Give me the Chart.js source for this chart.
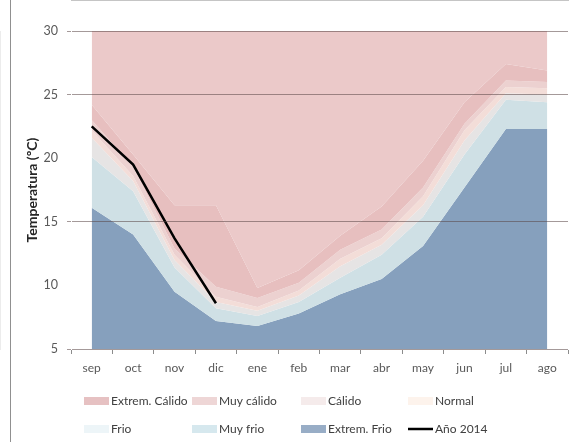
<!DOCTYPE html>
<html>
<head>
<meta charset="utf-8">
<script src="https://cdn.jsdelivr.net/npm/chart.js@4/dist/chart.umd.min.js"></script>
<style>
  body { margin: 0; background: #fff; }
  #wrap { position: relative; width: 572px; height: 442px; }
  #chart { display: block; }
  #frame { position: absolute; left: 10px; top: 0; width: 1px; height: 442px; background: #909090; z-index: 2; }
</style>
</head>
<body>
<div id="wrap">
  <canvas id="chart" width="572" height="442"></canvas>
  <div id="frame"></div>
</div>
<script>
'use strict';

// **** Data ****
let months = ['sep', 'oct', 'nov', 'dic', 'ene', 'feb', 'mar', 'abr', 'may', 'jun', 'jul', 'ago'];

// upper limit of each band (ºC)
let extremFrio = [16.1, 14.0, 9.5, 7.2, 6.8, 7.8, 9.3, 10.5, 13.1, 17.7, 22.3, 22.3];
let muyFrio = [20.1, 17.4, 11.4, 8.2, 7.6, 8.7, 10.6, 12.4, 15.4, 20.3, 24.6, 24.4];
let frio = [21.6, 18.2, 12.0, 8.7, 8.0, 9.2, 11.5, 13.2, 16.3, 21.4, 25.1, 25.0];
let normal = [22.2, 18.6, 12.4, 9.1, 8.3, 9.6, 12.1, 13.7, 17.0, 22.2, 25.6, 25.5];
let calido = [23.0, 19.3, 12.9, 9.9, 9.0, 10.2, 12.8, 14.4, 17.7, 22.7, 26.1, 26.0];
let muyCalido = [24.2, 20.3, 16.3, 16.3, 9.8, 11.2, 13.9, 16.2, 19.8, 24.4, 27.4, 26.9];
let extremCalido = [30, 30, 30, 30, 30, 30, 30, 30, 30, 30, 30, 30];

let anio2014 = [22.5, 19.5, 13.7, 8.6, null, null, null, null, null, null, null, null];

let yTicks = [5, 10, 15, 20, 25, 30];
let gridValues = [5, 15, 25, 30];

// **** Helpers ****

function band(label, data, fillColor, legendColor){
  return {
    label: label,
    data: data,
    backgroundColor: fillColor,
    legendColor: legendColor,
    borderWidth: 0,
    pointRadius: 0,
    tension: 0,
    fill: '+1'
  };
}

let datasets = [
  band('Extrem. Cálido', extremCalido, '#ebc9c9', '#e6c1c2'),
  band('Muy cálido', muyCalido, '#e7bfbf', '#eed6d6'),
  band('Cálido', calido, '#ecd1d0', '#f5ebeb'),
  band('Normal', normal, '#f3ddd8', '#fdf3ec'),
  band('Frio', frio, '#e6e4e4', '#edf5f8'),
  band('Muy frio', muyFrio, '#cfe0e5', '#d6e8ee'),
  band('Extrem. Frio', extremFrio, '#86a0bd', '#98adc6'),
  {
    label: 'Año 2014',
    data: anio2014,
    borderColor: '#000000',
    borderWidth: 2.5,
    pointRadius: 0,
    fill: false,
    order: -1
  }
];
datasets[6].fill = 'start';

// legend laid out in fixed columns like the original
let legendCols = [84, 192, 301, 408];
let legendRows = [401, 429];

let gridLegend = {
  id: 'gridLegend',
  afterDraw(chart){
    let ctx = chart.ctx;
    ctx.save();
    ctx.font = '12px Lato';
    ctx.textBaseline = 'middle';
    chart.data.datasets.forEach((ds, i) => {
      let x = legendCols[i % 4];
      let y = legendRows[Math.floor(i / 4)];
      if(ds.fill === false){
        ctx.strokeStyle = ds.borderColor;
        ctx.lineWidth = 2.5;
        ctx.beginPath();
        ctx.moveTo(x, y);
        ctx.lineTo(x + 25, y);
        ctx.stroke();
      } else {
        ctx.fillStyle = ds.legendColor;
        ctx.fillRect(x, y - 4, 25, 8);
      }
      ctx.fillStyle = '#404040';
      ctx.fillText(ds.label, x + 27, y);
    });
    ctx.restore();
  }
};

// **** Chart ****

let chartCanvas = document.getElementById('chart');

new Chart(chartCanvas, {
  type: 'line',
  data: { labels: months, datasets: datasets },
  plugins: [gridLegend],
  options: {
    responsive: false,
    animation: false,
    layout: { padding: { left: 10, right: 4, top: 31, bottom: 0 } },
    plugins: {
      legend: { display: false },
      tooltip: { enabled: false },
      filler: { propagate: false }
    },
    scales: {
      x: {
        offset: true,
        grid: {
          offset: true,
          drawOnChartArea: false,
          tickLength: 5,
          color: '#8c8c8c',
          z: 1
        },
        border: { color: '#8c8c8c' },
        ticks: { color: '#595959', font: { family: 'Lato', size: 12 }, padding: 7 },
        afterFit(scale){ scale.height = 93; }
      },
      y: {
        min: 5,
        max: 30,
        afterBuildTicks(scale){ scale.ticks = yTicks.map(v => ({ value: v })); },
        grid: {
          z: 1,
          tickLength: 4,
          color: (c) => (c.tick && gridValues.includes(c.tick.value)) ? 'rgba(90,70,70,0.55)' : 'rgba(0,0,0,0)'
        },
        border: { color: '#d9d9d9' },
        ticks: { color: '#595959', font: { family: 'Lato', size: 12.5 }, padding: 9 },
        title: {
          display: true,
          text: 'Temperatura (ºC)',
          color: '#262626',
          font: { family: 'Lato', size: 14, weight: 'bold' },
          padding: { top: 14, bottom: 0 }
        },
        afterFit(scale){ scale.width = 61; }
      }
    }
  }
});
</script>
</body>
</html>
